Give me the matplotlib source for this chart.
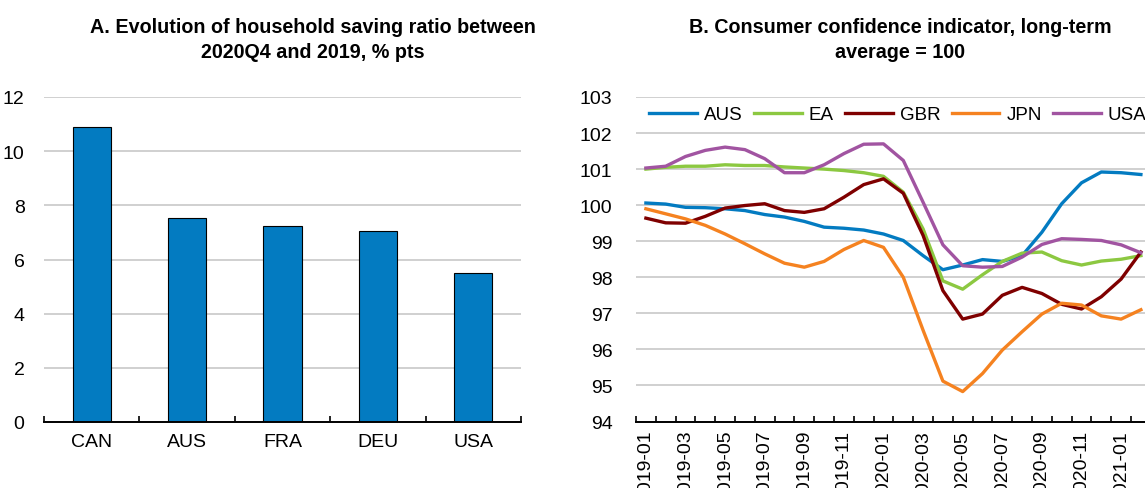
import matplotlib
matplotlib.use("Agg")
import matplotlib.pyplot as plt
import numpy as np

plt.rcParams['font.family'] = ['Liberation Sans Narrow', 'Liberation Sans', 'DejaVu Sans']
plt.rcParams['font.size'] = 14

# panel A data
countries = ['CAN', 'AUS', 'FRA', 'DEU', 'USA']
saving_change = [10.9, 7.55, 7.23, 7.07, 5.5]

# panel B data
months = ['2019-01', '2019-02', '2019-03', '2019-04', '2019-05', '2019-06', '2019-07',
          '2019-08', '2019-09', '2019-10', '2019-11', '2019-12', '2020-01', '2020-02',
          '2020-03', '2020-04', '2020-05', '2020-06', '2020-07', '2020-08', '2020-09',
          '2020-10', '2020-11', '2020-12', '2021-01', '2021-02']
aus = [100.06, 100.03, 99.94, 99.93, 99.90, 99.85, 99.74, 99.67, 99.55, 99.39, 99.36, 99.31,
       99.20, 99.02, 98.60, 98.21, 98.34, 98.49, 98.44, 98.60, 99.25, 100.04, 100.62, 100.92,
       100.90, 100.85]
ea = [101.00, 101.05, 101.08, 101.08, 101.12, 101.10, 101.10, 101.06, 101.03, 101.00, 100.96,
      100.90, 100.80, 100.36, 99.34, 97.90, 97.67, 98.07, 98.44, 98.67, 98.70, 98.46, 98.34,
      98.45, 98.50, 98.60]
gbr = [99.64, 99.51, 99.50, 99.69, 99.92, 99.99, 100.04, 99.85, 99.80, 99.90, 100.22, 100.57,
       100.73, 100.33, 99.16, 97.63, 96.84, 96.98, 97.50, 97.72, 97.55, 97.25, 97.12, 97.46,
       97.95, 98.70]
jpn = [99.90, 99.76, 99.62, 99.44, 99.20, 98.93, 98.65, 98.39, 98.28, 98.44, 98.77, 99.02,
       98.83, 98.00, 96.53, 95.12, 94.83, 95.33, 95.98, 96.49, 96.98, 97.28, 97.23, 96.93,
       96.84, 97.10]
usa = [101.03, 101.08, 101.35, 101.52, 101.61, 101.54, 101.29, 100.90, 100.90, 101.12, 101.43,
       101.69, 101.70, 101.24, 100.08, 98.90, 98.32, 98.28, 98.30, 98.56, 98.91, 99.07, 99.05,
       99.02, 98.90, 98.68]

series = {'AUS': (aus, '#037BC1'), 'EA': (ea, '#8CC841'), 'GBR': (gbr, '#7F0000'),
          'JPN': (jpn, '#F58220'), 'USA': (usa, '#A154A1')}

W, H = 1145, 489
fig = plt.figure(figsize=(W / 100, H / 100), dpi=100)

grid_col = '#C4C4C4'

# ---- panel A
ax1 = fig.add_axes([44 / W, 1 - 423 / H, (521 - 44) / W, (423 - 98) / H])
x = np.arange(len(countries))
ax1.bar(x, saving_change, width=0.4, color='#037BC1', edgecolor='black', linewidth=0.8, zorder=3)
ax1.set_xlim(-0.5, len(countries) - 0.5)
ax1.set_ylim(0, 12)
ax1.set_yticks(range(0, 13, 2))
ax1.set_xticks(x)
ax1.set_xticklabels(countries)
ax1.set_xticks(np.arange(-0.5, len(countries), 1), minor=True)
ax1.grid(axis='y', color=grid_col, linewidth=1.1, zorder=0)
for s in ['top', 'right', 'left']:
    ax1.spines[s].set_visible(False)
ax1.spines['bottom'].set_linewidth(1.4)
ax1.spines['bottom'].set_zorder(4)
ax1.tick_params(axis='y', length=0, pad=14)
ax1.tick_params(axis='x', which='major', length=0, pad=8)
ax1.tick_params(axis='x', which='minor', direction='in', length=4.5, width=1.2)

fig.text(313 / W, 1 - 40 / H, 'A. Evolution of household saving ratio between\n2020Q4 and 2019, % pts',
         ha='center', va='center', fontweight='bold', fontsize=14.2, linespacing=1.4)

# ---- panel B
ax2 = fig.add_axes([636 / W, 1 - 422.5 / H, 26 * 19.8 / W, (422.5 - 98) / H])
xm = np.arange(len(months))
for name, (vals, col) in series.items():
    ax2.plot(xm, vals, color=col, linewidth=2.4, label=name, zorder=3)
ax2.set_xlim(-0.5, len(months) - 0.5)
ax2.set_ylim(94, 103)
ax2.set_yticks(range(94, 104))
ax2.set_xticks(xm[::2])
ax2.set_xticklabels(months[::2], rotation=90, va='top', ha='center')
ax2.set_xticks(np.arange(-0.5, len(months), 1), minor=True)
ax2.grid(axis='y', color=grid_col, linewidth=1.1, zorder=0)
for s in ['top', 'right', 'left']:
    ax2.spines[s].set_visible(False)
ax2.spines['bottom'].set_linewidth(1.4)
ax2.tick_params(axis='y', length=0, pad=17)
ax2.tick_params(axis='x', which='major', length=0, pad=6)
ax2.tick_params(axis='x', which='minor', direction='in', length=4.5, width=1.2)
ax2.legend(loc='center left', bbox_to_anchor=(0.0, 0.945), ncol=5, frameon=False,
           handlelength=2.55, handletextpad=0.37, columnspacing=0.6, borderaxespad=0.3,
           fontsize=13.5)

fig.text(900 / W, 1 - 40 / H, 'B. Consumer confidence indicator, long-term\naverage = 100',
         ha='center', va='center', fontweight='bold', fontsize=14.2, linespacing=1.4)

fig.savefig('out.png', dpi=100)
